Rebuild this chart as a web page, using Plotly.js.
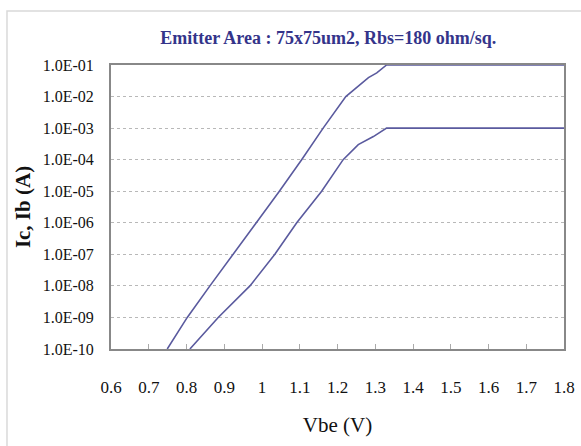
<!DOCTYPE html>
<html>
<head>
<meta charset="utf-8">
<script src="https://cdn.plot.ly/plotly-3.0.1.min.js"></script>
<style>
  html, body { margin: 0; padding: 0; background: #ffffff; }
  #chart { width: 581px; height: 446px; }
</style>
</head>
<body>
<div id="chart"></div>
<script>
// Collector current (upper curve)
const vbeIc = [0.749, 0.802, 0.862, 0.924, 0.986, 1.046, 1.105, 1.162, 1.222, 1.260, 1.282, 1.304, 1.330, 1.8];
const ic    = [1e-10, 1e-9, 1e-8, 1e-7, 1e-6, 1e-5, 1e-4, 1e-3, 1e-2, 2.4e-2, 4.0e-2, 5.6e-2, 1e-1, 1e-1];

// Base current (lower curve)
const vbeIb = [0.809, 0.884, 0.968, 1.034, 1.092, 1.158, 1.215, 1.255, 1.295, 1.330, 1.8];
const ib    = [1e-10, 1e-9, 1e-8, 1e-7, 1e-6, 1e-5, 1e-4, 3.0e-4, 5.4e-4, 1e-3, 1e-3];

const xTicks = [0.6, 0.7, 0.8, 0.9, 1.0, 1.1, 1.2, 1.3, 1.4, 1.5, 1.6, 1.7, 1.8];
const xTickText = ["0.6", "0.7", "0.8", "0.9", "1", "1.1", "1.2", "1.3", "1.4", "1.5", "1.6", "1.7", "1.8"];
const yTicks = [1e-10, 1e-9, 1e-8, 1e-7, 1e-6, 1e-5, 1e-4, 1e-3, 1e-2, 1e-1];
const yTickText = ["1.0E-10", "1.0E-09", "1.0E-08", "1.0E-07", "1.0E-06", "1.0E-05", "1.0E-04", "1.0E-03", "1.0E-02", "1.0E-01"];

const titleText = "Emitter Area : 75x75um2, Rbs=180 ohm/sq.";
const xTitle = "Vbe (V)";
const yTitle = "Ic, Ib (A)";

const lineColor = "#5a5a9e";
const serif = "'Liberation Serif', 'Times New Roman', serif";

const traces = [
  { x: vbeIc, y: ic, name: "Ic", type: "scatter", mode: "lines",
    line: { color: lineColor, width: 1.6 }, cliponaxis: true },
  { x: vbeIb, y: ib, name: "Ib", type: "scatter", mode: "lines",
    line: { color: lineColor, width: 1.6 }, cliponaxis: true }
];

const layout = {
  width: 581, height: 446,
  margin: { l: 111, r: 17, t: 65, b: 97 },
  paper_bgcolor: "#ffffff",
  plot_bgcolor: "#ffffff",
  showlegend: false,
  title: {
    text: titleText,
    font: { family: serif, size: 18, color: "#34348a", weight: "bold" },
    x: 0.565, xanchor: "center", y: 0.915, yanchor: "middle"
  },
  xaxis: {
    range: [0.6, 1.8],
    tickvals: xTicks, ticktext: xTickText,
    ticks: "inside", ticklen: 5, tickcolor: "#aaaaaa", tickwidth: 1,
    showgrid: false, zeroline: false,
    showline: true, linecolor: "#888888", linewidth: 2, mirror: true,
    tickfont: { family: serif, size: 17, color: "#111111" },
    ticklabelstandoff: 22,
    title: { text: xTitle, font: { family: serif, size: 21, color: "#111111" }, standoff: 21 }
  },
  yaxis: {
    type: "log",
    range: [-10, -1],
    tickvals: yTicks, ticktext: yTickText,
    ticks: "", showgrid: true,
    gridcolor: "#b8b8b8", griddash: "dot", gridwidth: 1,
    zeroline: false,
    showline: true, linecolor: "#888888", linewidth: 2, mirror: true,
    tickfont: { family: serif, size: 16, color: "#111111" },
    ticklabelstandoff: 12,
    title: { text: yTitle, font: { family: serif, size: 21, color: "#111111", weight: "bold" }, standoff: 6 }
  },
  shapes: [
    { type: "rect", xref: "paper", yref: "paper",
      x0: -0.2296, x1: 1.3, y0: -0.5, y1: 1.19,
      line: { color: "#d9d9d9", width: 1.5 }, fillcolor: "rgba(0,0,0,0)", layer: "below" }
  ]
};

Plotly.newPlot("chart", traces, layout, { displayModeBar: false, staticPlot: true });
</script>
</body>
</html>
